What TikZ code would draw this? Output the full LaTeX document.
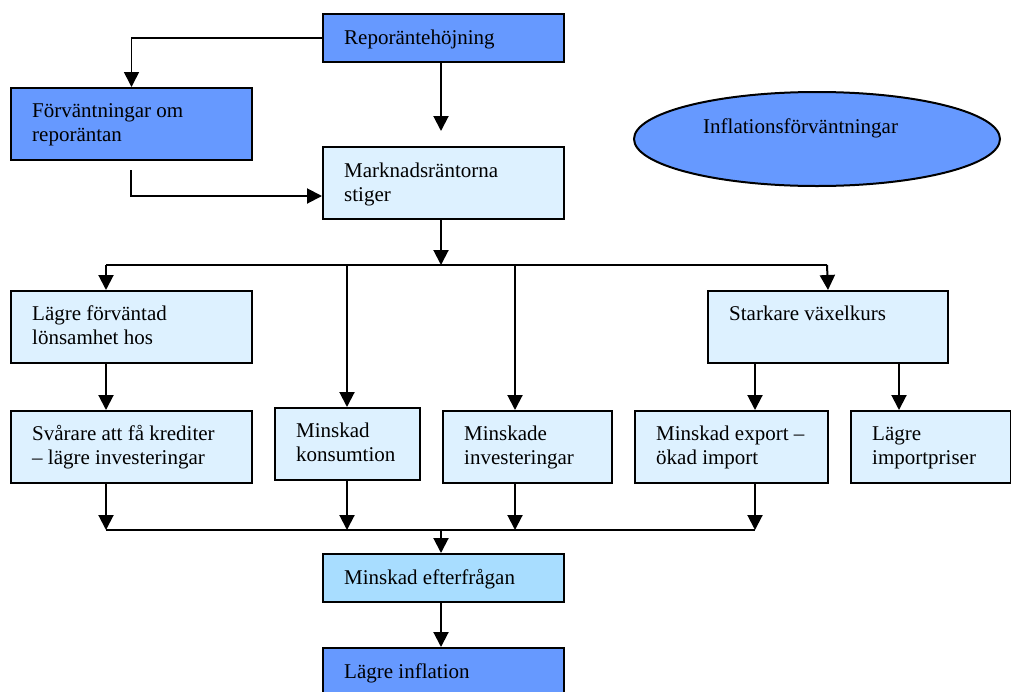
\documentclass[tikz,border=0pt]{standalone}
\usepackage{fontspec}
\setmainfont{Liberation Serif}
\usetikzlibrary{arrows.meta,shapes.geometric}
\definecolor{darkbl}{HTML}{6699FF}
\definecolor{lightbl}{HTML}{DDF1FF}
\definecolor{midbl}{HTML}{A8DDFF}
\begin{document}
\begin{tikzpicture}[x=1pt,y=-1pt,
  box/.style={draw=black,line width=2pt,inner sep=0pt,anchor=north west},
  lbl/.style={anchor=base west,inner sep=0pt,align=left,font=\fontsize{21}{24}\selectfont},
  arr/.style={line width=2pt,-{Triangle[width=15pt,length=15pt]}},
  ln/.style={line width=2pt}]
\clip (0,0) rectangle (1011,691);
\fill[white] (0,0) rectangle (1011,691);
\newcommand{\bx}[6]{% name, x, y, w, h, fill
  \node[box,fill=#6,minimum width=#4pt,minimum height=#5pt] (#1) at (#2,#3) {};}
\bx{repo}{322}{13}{241}{48}{darkbl}
\bx{forv}{10}{87}{241}{72}{darkbl}
\bx{markn}{322}{146}{241}{72}{lightbl}
\bx{lagre}{10}{290}{241}{72}{lightbl}
\bx{svar}{10}{410}{241}{72}{lightbl}
\bx{kons}{274}{407}{145}{72}{lightbl}
\bx{inv}{442}{410}{169}{72}{lightbl}
\bx{stark}{707}{290}{240}{72}{lightbl}
\bx{exp}{634}{410}{193}{72}{lightbl}
\bx{imp}{850}{410}{160}{72}{lightbl}
\bx{eft}{322}{553}{241}{48}{midbl}
\bx{infl}{322}{647}{241}{60}{darkbl}
\node[ellipse,draw=black,line width=2pt,fill=darkbl,minimum width=366pt,minimum height=94pt,inner sep=0pt] (ell) at (817,139) {};
% labels (two-line labels anchored at the baseline of their last line)
\node[lbl] (repoT) at (344,44) {Reporäntehöjning};
\node[lbl] (forvT) at (32,141) {Förväntningar om\\reporäntan};
\node[lbl] (marknT) at (344,201) {Marknadsräntorna\\stiger};
\node[lbl] (lagreT) at (32,344) {Lägre förväntad\\lönsamhet hos};
\node[lbl] (svarT) at (32,464) {Svårare att få krediter\\– lägre investeringar};
\node[lbl] (konsT) at (296,461) {Minskad\\konsumtion};
\node[lbl] (invT) at (464,464) {Minskade\\investeringar};
\node[lbl] (starkT) at (729,320) {Starkare växelkurs};
\node[lbl] (expT) at (656,464) {Minskad export –\\ökad import};
\node[lbl] (impT) at (872,464) {Lägre\\importpriser};
\node[lbl] (eftT) at (344,584) {Minskad efterfrågan};
\node[lbl] (inflT) at (344,678) {Lägre inflation};
\node[lbl] (ellT) at (703,133) {Inflationsförväntningar};
% connectors
\coordinate (j1) at (441,265);
\draw[arr,line width=1.6pt] (repo.west) -| (forv.north);
\draw[arr] (j1 |- repo.south) -- ([yshift=15pt]j1 |- markn.north);
\coordinate (f1) at (131,170);
\draw[arr] (f1) |- ([yshift=-13pt]markn.west);
\coordinate (bL) at (106,265);
\coordinate (bR) at (827,265);
\coordinate (b2) at (347,265);
\coordinate (b3) at (515,265);
\draw[arr] (j1 |- markn.south) -- (j1);
\draw[ln] (bL) -- (bR);
\draw[arr] (bL) -- (bL |- lagre.north);
\draw[arr] (b2) -- (b2 |- kons.north);
\draw[arr] (b3) -- (b3 |- inv.north);
\draw[arr] (bR) -- (stark.north);
\coordinate (l1) at (106,362);
\draw[arr] (l1) -- (l1 |- svar.north);
\coordinate (s1) at (755,362);
\coordinate (s2) at (899,362);
\draw[arr] (s1) -- (s1 |- exp.north);
\draw[arr] (s2) -- (s2 |- imp.north);
% bottom bus
\coordinate (c1) at (106,530);
\coordinate (c2) at (347,530);
\coordinate (c3) at (515,530);
\coordinate (c4) at (755,530);
\coordinate (cj) at (441,530);
\draw[ln] (c1) -- (c4);
\draw[arr] (c1 |- svar.south) -- (c1);
\draw[arr] (c2 |- kons.south) -- (c2);
\draw[arr] (c3 |- inv.south) -- (c3);
\draw[arr] (c4 |- exp.south) -- (c4);
\draw[arr] (cj) -- (cj |- eft.north);
\draw[arr] (cj |- eft.south) -- (cj |- infl.north);
\end{tikzpicture}
\end{document}
